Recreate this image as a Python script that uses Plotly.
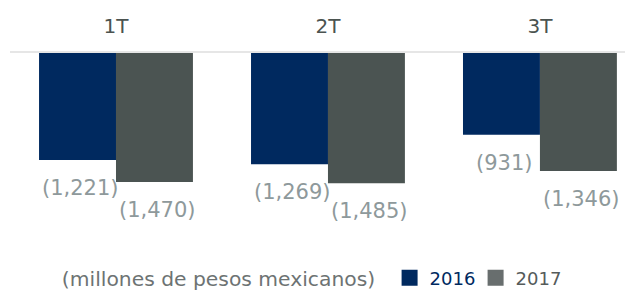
import plotly.graph_objects as go

categories = ["1T", "2T", "3T"]
values_2016 = [-1221, -1269, -931]
values_2017 = [-1470, -1485, -1346]
labels_2016 = ["(1,221)", "(1,269)", "(931)"]
labels_2017 = ["(1,470)", "(1,485)", "(1,346)"]
series_names = ["2016", "2017"]

c2016 = "#00295F"
c2017 = "#4B5452"
legend2017 = "#686E6E"
label_color = "#8E999B"
font_family = "DejaVu Sans, sans-serif"

fig = go.Figure()
fig.add_trace(go.Bar(x=categories, y=values_2016, showlegend=False,
                     marker=dict(color=c2016, line=dict(width=0))))
fig.add_trace(go.Bar(x=categories, y=values_2017, showlegend=False,
                     marker=dict(color=c2017, line=dict(width=0))))
# legend entries
for nm, col, tcol in ((series_names[0], c2016, "#00295F"), (series_names[1], legend2017, "#555B5A")):
    fig.add_trace(go.Scatter(x=[None], y=[None], mode="markers",
                             marker=dict(symbol="square", size=16, color=col),
                             name=f"<span style='color:{tcol}'>{nm}</span>"))

# value labels below each bar (bar centre offset within a group)
offset = 0.182
for i, cat in enumerate(categories):
    for val, lab, dx in ((values_2016[i], labels_2016[i], -offset), (values_2017[i], labels_2017[i], offset)):
        fig.add_annotation(x=i + dx, y=val, text=lab, showarrow=False, yshift=-28, xshift=3,
                           xref="x", yref="y",
                           font=dict(size=21, color=label_color, family=font_family))

# page has an 8px body margin; figure is sized/offset to compensate
fig.update_layout(
    width=625, height=282,
    margin=dict(l=2, r=0, t=45, b=50, autoexpand=False),
    paper_bgcolor="white", plot_bgcolor="white",
    barmode="group", bargap=0.274, bargroupgap=0,
    font=dict(family=font_family),
    showlegend=True,
    legend=dict(orientation="h", x=0.080, xanchor="left", y=-0.203, yanchor="middle",
                title=dict(text="(millones de pesos mexicanos)\u00a0", side="left",
                           font=dict(size=20.3, color="#6D7373", family=font_family)),
                font=dict(size=18, family=font_family), itemwidth=30,
                entrywidth=41, entrywidthmode="pixels",
                traceorder="normal"),
)
fig.update_xaxes(side="top", type="category", range=[-0.5, 2.439], automargin=False,
                 showline=True, linecolor="#E6E6E6", linewidth=2,
                 ticks="", showgrid=False, ticklabelstandoff=10,
                 tickfont=dict(size=20, color="#4B5350", family=font_family))
fig.update_yaxes(range=[-2132, 0], visible=False, showgrid=False, zeroline=False,
                 automargin=False)

fig.write_html("out.html")
